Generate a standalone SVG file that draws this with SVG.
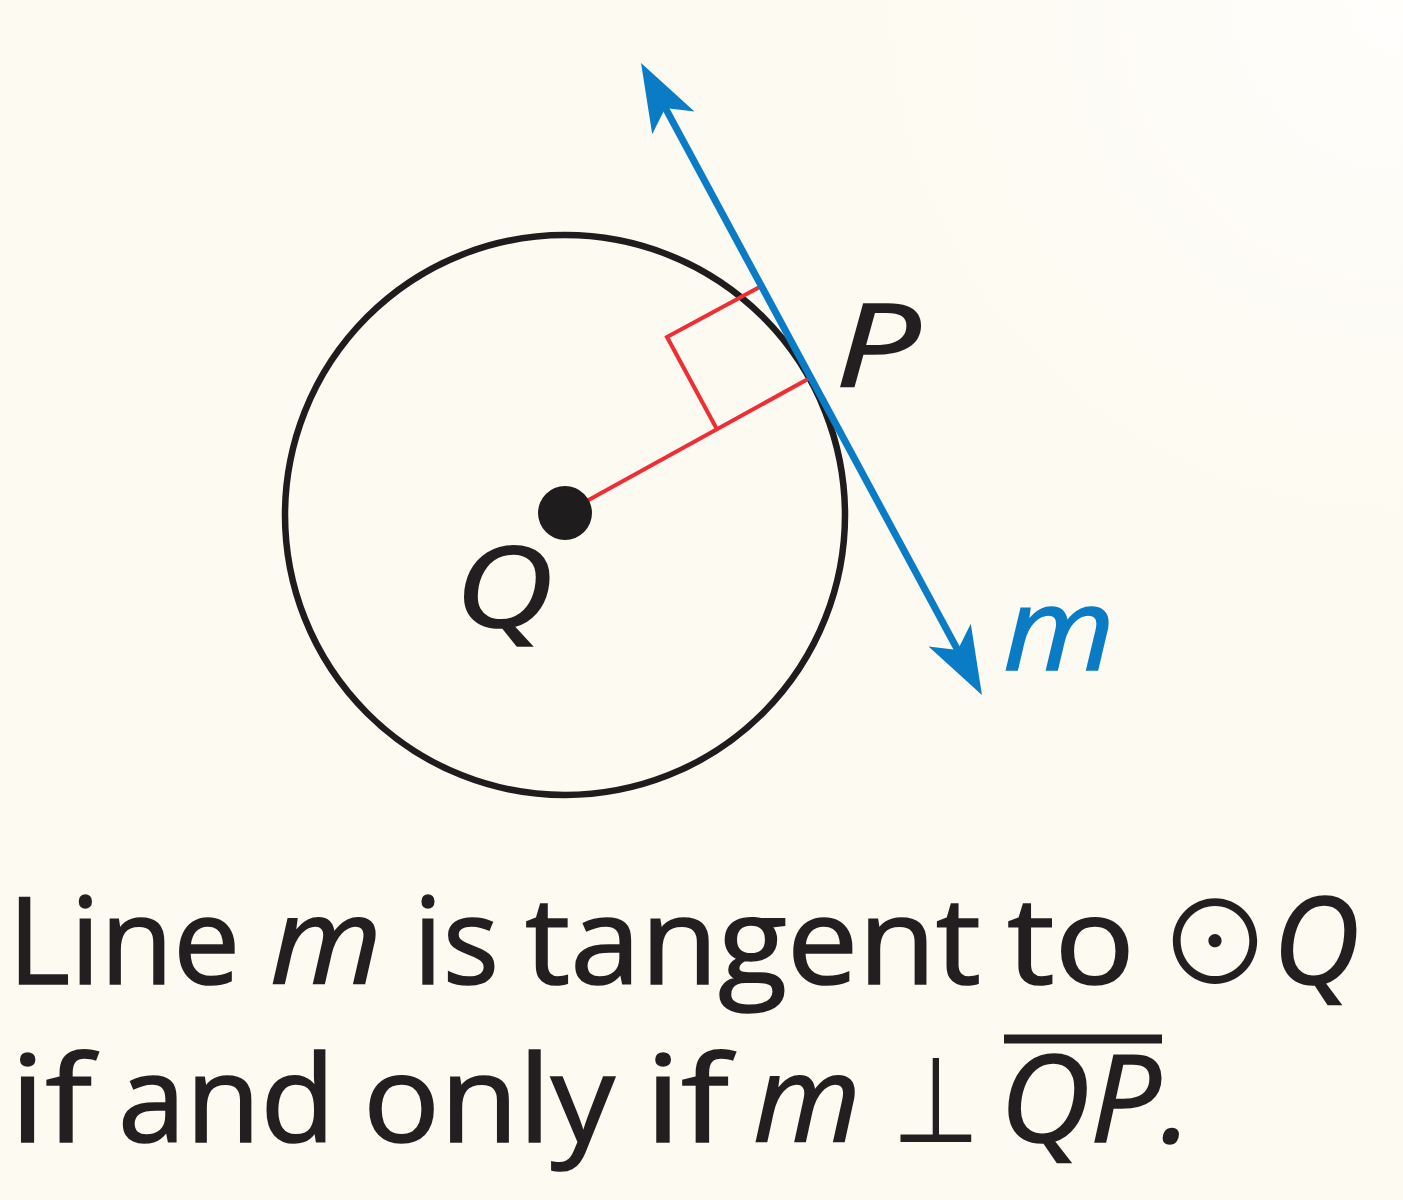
<svg xmlns="http://www.w3.org/2000/svg" width="1403" height="1200" viewBox="0 0 1403 1200">
  <defs>
    <radialGradient id="bg" cx="1403" cy="0" r="520" gradientUnits="userSpaceOnUse">
      <stop offset="0" stop-color="#fffefc"/>
      <stop offset="1" stop-color="#fdfaf1"/>
    </radialGradient>
    <marker id="arrow" markerUnits="userSpaceOnUse" markerWidth="120" markerHeight="120" refX="0" refY="0" orient="auto-start-reverse" overflow="visible">
      <path d="M30,0 L-38,-24 L-21,0 L-38,24 Z" fill="#0a7cc5"/>
    </marker>
    <style>
      .txt { font-family: "Open Sans", "Noto Sans", "DejaVu Sans", sans-serif; fill: #231f20; font-weight: 400; stroke: #231f20; stroke-width: 1.6px; }
      .it { font-style: italic; }
      .sym { font-family: "Noto Sans CJK SC", "DejaVu Sans", sans-serif; fill: #231f20; font-style: normal; stroke: none; }
      .body { font-size: 120px; }
      .lbl { font-size: 112px; }
    </style>
  </defs>

  <rect x="0" y="0" width="1403" height="1200" fill="url(#bg)"/>

  <g id="circle-Q">
    <circle cx="565" cy="515" r="280" fill="none" stroke="#1e1c1c" stroke-width="6.5"/>
  </g>

  <g id="connectors">
    <path id="radius-QP" d="M565,513 L808,379" fill="none" stroke="#ef2d35" stroke-width="4"/>
    <path id="right-angle" d="M716.4,428.3 L667,337 L758.7,287.5" fill="none" stroke="#ef2d35" stroke-width="4" stroke-linejoin="miter"/>
    <line id="line-m" x1="655.3" y1="89.4" x2="967.7" y2="668.6" stroke="#0a7cc5" stroke-width="7" marker-start="url(#arrow)" marker-end="url(#arrow)"/>
  </g>

  <g id="point-Q">
    <circle cx="565" cy="513" r="27" fill="#1e1c1c"/>
    <text class="txt it lbl" x="455" y="627" textLength="98" lengthAdjust="spacingAndGlyphs">Q</text>
  </g>

  <g id="point-P">
    <text class="txt it lbl" x="835" y="387" textLength="85" lengthAdjust="spacingAndGlyphs" style="font-size:116px">P</text>
  </g>

  <g id="label-m">
    <text class="txt it" x="1003" y="670" textLength="112" lengthAdjust="spacingAndGlyphs" style="font-size:116px;fill:#0a7cc5;stroke:#0a7cc5">m</text>
  </g>

  <g id="caption">
    <text class="txt body" x="8" y="984" textLength="232" lengthAdjust="spacingAndGlyphs">Line</text>
    <text class="txt body it" x="270" y="984" textLength="112" lengthAdjust="spacingAndGlyphs">m</text>
    <text class="txt body" x="413" y="984" textLength="86" lengthAdjust="spacingAndGlyphs">is</text>
    <text class="txt body" x="525" y="984" textLength="456" lengthAdjust="spacingAndGlyphs">tangent</text>
    <text class="txt body" x="1007" y="984" textLength="128" lengthAdjust="spacingAndGlyphs">to</text>
    <text class="txt body it" y="984"><tspan class="sym" x="1158" style="font-size:114px">⊙</tspan><tspan x="1273">Q</tspan></text>

    <text class="txt body" x="10" y="1142" textLength="82" lengthAdjust="spacingAndGlyphs">if</text>
    <text class="txt body" x="118" y="1142" textLength="217" lengthAdjust="spacingAndGlyphs">and</text>
    <text class="txt body" x="363" y="1142" textLength="252" lengthAdjust="spacingAndGlyphs">only</text>
    <text class="txt body" x="645" y="1142" textLength="84" lengthAdjust="spacingAndGlyphs">if</text>
    <text class="txt body it" x="753" y="1142" textLength="108" lengthAdjust="spacingAndGlyphs">m</text>
    <text class="sym" x="892" y="1142" textLength="88" lengthAdjust="spacingAndGlyphs" style="font-family:'DejaVu Sans',sans-serif;font-size:120px">⊥</text>
    <text class="txt body it" x="1000" y="1142" textLength="192" lengthAdjust="spacingAndGlyphs">QP.</text>
    <line x1="1004" y1="1039" x2="1162" y2="1039" stroke="#231f20" stroke-width="9"/>
  </g>
</svg>
